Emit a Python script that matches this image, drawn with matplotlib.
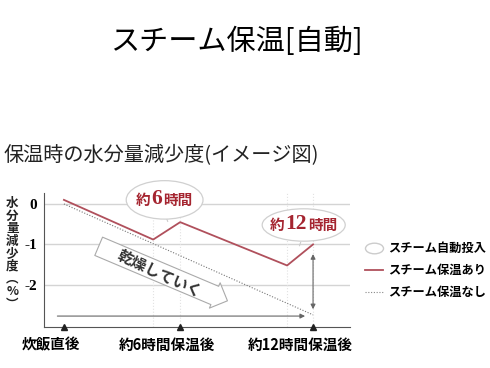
import matplotlib.pyplot as plt
from matplotlib.lines import Line2D
from matplotlib.patches import Ellipse
from matplotlib.path import Path
from matplotlib.transforms import Affine2D, ScaledTranslation

plt.rcParams['font.family'] = ['Noto Sans CJK JP', 'DejaVu Sans']

# data (x in hours, y in %)
steam_x = [0, 4.3, 5.6, 10.75, 12]
steam_y = [0.1, -0.88, -0.45, -1.52, -1.0]
plain_x = [0, 12]
plain_y = [0, -2.74]
tick_pos = [0, 5.6, 12]
tick_labels = ['炊飯直後', '約6時間保温後', '約12時間保温後']
ytick_pos = [0, -1, -2]
bubble_hours = ['6', '12']
legend_labels = ['スチーム自動投入', 'スチーム保温あり', 'スチーム保温なし']

red = '#b0505c'
darkred = '#a52530'
grid = '#d4d4d4'

fig = plt.figure(figsize=(4.9, 3.68), dpi=100)
ax = fig.add_axes([44 / 490, 1 - 327 / 368, 306 / 490, 134 / 368])
ax.set_xlim(-0.96, 13.78)
ax.set_ylim(-3.04, 0.27)

fig.text(0.482, 0.885, 'スチーム保温[自動]', fontsize=21, ha='center', va='center')
fig.text(0.008, 0.578, '保温時の水分量減少度(イメージ図)', fontsize=14.5,
         ha='left', va='center', color='#222222')

# grid
for y in ytick_pos:
    ax.axhline(y, color=grid, lw=1, zorder=0)
for x in [steam_x[1], steam_x[2], steam_x[3], steam_x[4]]:
    ax.axvline(x, color='#e2e2e2', lw=0.8, ls=':', zorder=0)

for s in ['top', 'right']:
    ax.spines[s].set_visible(False)
ax.spines['left'].set_color('#555555')
ax.spines['bottom'].set_color('#555555')

ax.plot(plain_x, plain_y, color='#777777', lw=0.8, ls=(0, (1, 1.5)), zorder=2)
ax.plot(steam_x, steam_y, color=red, lw=1.3, zorder=3)

# arrows
ax.annotate('', xy=(11.75, -2.77), xytext=(-0.45, -2.77),
            arrowprops=dict(arrowstyle='-|>', color='#666666', lw=0.8,
                            mutation_scale=7))
ax.annotate('', xy=(12, -2.67), xytext=(12, -1.17),
            arrowprops=dict(arrowstyle='<|-|>', color='#666666', lw=0.8,
                            mutation_scale=7))
ax.annotate('', xy=(8.0, -2.42), xytext=(1.55, -1.02),
            arrowprops=dict(arrowstyle='simple,head_length=0.9,head_width=1.8,tail_width=1.3',
                            fc='white', ec='#aaaaaa', lw=0.8, mutation_scale=11),
            zorder=1)
ax.text(4.6, -1.72, '乾燥していく', rotation=-25, fontsize=11, fontweight='bold',
        ha='center', va='center', color='#333333', rotation_mode='anchor')

# bubbles
bubbles = [(4.85, 0.1, 3.7, 0.95, 4.9, -0.3, 5.05, -0.5),
           (11.55, -0.52, 4.0, 0.8, 11.45, -0.88, 11.3, -1.1)]
for (cx, cy, w, h, tx0, ty0, tx1, ty1), hrs in zip(bubbles, bubble_hours):
    ax.annotate('', xy=(tx1, ty1), xytext=(tx0, ty0),
                arrowprops=dict(arrowstyle='-', color='#cccccc', lw=0.8), zorder=4)
    ax.add_patch(Ellipse((cx, cy), w, h, fc='white', ec='#d0d0d0', lw=0.9, zorder=5,
                         clip_on=False))
    half = 3.8 * len(hrs)
    nx = -5.5
    kw = dict(xycoords='data', textcoords='offset points', color=darkred,
              fontweight='bold', va='center', zorder=6, annotation_clip=False)
    ax.annotate(hrs, (cx, cy), xytext=(nx, 0.5), ha='center', fontsize=15.5,
                family='Liberation Serif', **kw)
    ax.annotate('約', (cx, cy), xytext=(nx - half - 0.8, 0), ha='right', fontsize=10.5, **kw)
    ax.annotate('時間', (cx, cy), xytext=(nx + half + 0.8, 0), ha='left', fontsize=10.5, **kw)

# ticks
ax.set_yticks(ytick_pos)
ax.set_yticklabels(['0', '-1', '-2'], family='Liberation Serif', fontweight='bold',
                   fontsize=11)
ax.tick_params(axis='y', length=0, pad=5)
ax.set_xticks(tick_pos)
ax.set_xticklabels(tick_labels, fontsize=10.5, fontweight='bold')
ax.tick_params(axis='x', length=0, pad=7)
shift = ScaledTranslation(-13 / 100, 0, fig.dpi_scale_trans)
for lab in ax.get_xticklabels():
    lab.set_transform(lab.get_transform() + shift)
ax.plot(tick_pos, [-3.04] * 3, ls='none', marker='^', color='#222222', ms=4,
        clip_on=False, zorder=7)

fig.text(0.025, 0.31, '\n'.join('水分量減少度︵%︶'), fontsize=9, fontweight='bold',
         ha='center', va='center', linespacing=0.95, color='#222222')

oval = Path.unit_circle().transformed(Affine2D().scale(1.7, 1))
handles = [Line2D([], [], marker=oval, ms=13, mfc='white', mec='#cccccc', ls='none'),
           Line2D([], [], color=red, lw=1.3),
           Line2D([], [], color='#888888', lw=0.8, ls=(0, (1, 1.5)))]
fig.legend(handles, legend_labels, loc='center left', bbox_to_anchor=(0.722, 0.265),
           frameon=False, prop={'size': 8.8, 'weight': 'bold'}, handlelength=1.5,
           labelspacing=0.72, handletextpad=0.4)

fig.savefig('out.png', dpi=100)
